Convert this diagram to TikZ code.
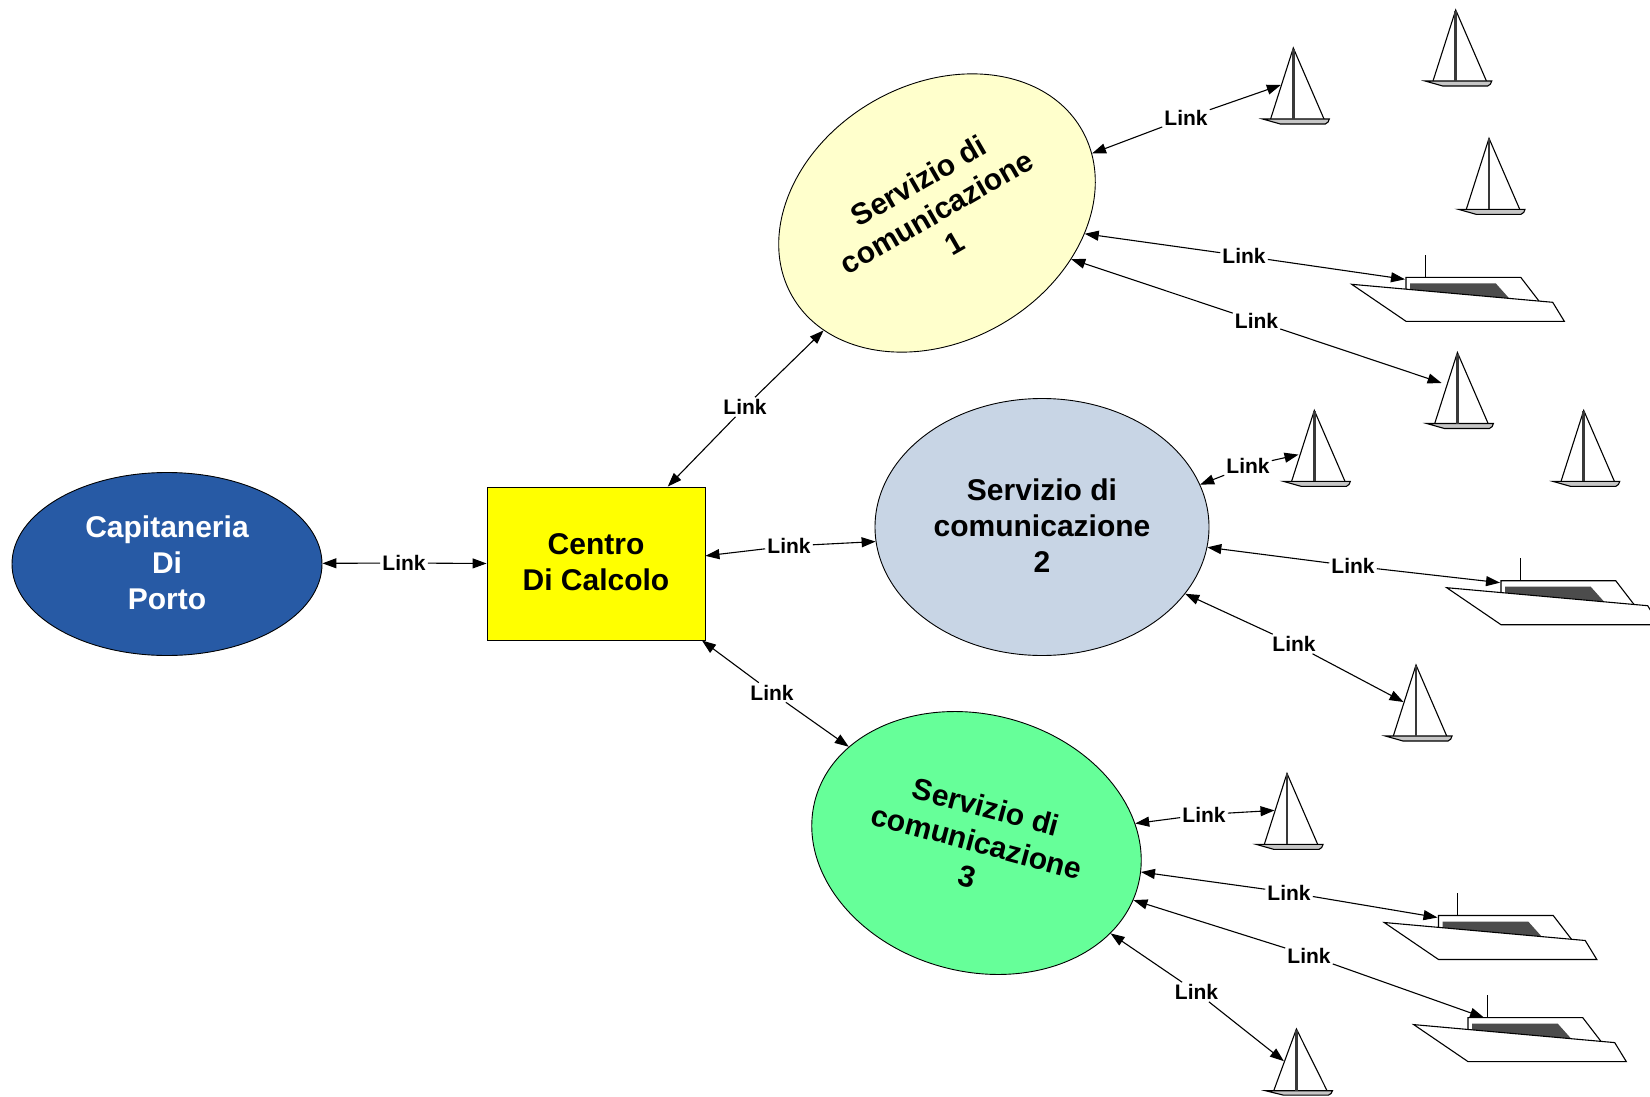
\documentclass[tikz,border=0pt]{standalone}
\usepackage{fontspec}
\setmainfont{Liberation Sans}
\usetikzlibrary{shapes.geometric, arrows.meta}
\definecolor{cblue}{RGB}{39,90,165}
\definecolor{cyel}{RGB}{255,255,0}
\definecolor{cpale}{RGB}{255,255,204}
\definecolor{cgrey}{RGB}{200,213,229}
\definecolor{cgreen}{RGB}{102,255,153}
\tikzset{sv/.style = {ellipse, draw, line width=0.9pt, minimum width=334pt, minimum height=257pt, inner sep=0pt, text depth=3pt, align=center, font=\fontsize{30}{36}\selectfont\bfseries},
           lk/.style = {inner sep=2pt, font=\fontsize{21}{24}\selectfont\bfseries},
           ln/.style = {line width=1.1pt},
           sb/.pic = {
             \draw[line width=1.1pt] (-22.7,71) -- (0,0) -- (30.7,71);
             \draw[line width=1.1pt, fill=gray!45] (-30.7,71) -- (-13,76) -- (32,76) to[bend right=30] (36,71) -- cycle;
             \draw[line width=2.6pt, gray!45!black] (0,1) -- (0,71);
             \coordinate (-port) at (-12.5,37);
             \coordinate (-high) at (-15.8,30.5);
             \coordinate (-low) at (-15.8,44.2);
           },
           mb/.pic = {
             \draw[line width=1.1pt, fill=white] (0,14) -- (0,0) -- (114.7,0) -- (134.7,26);
             \fill[black!70] (4,6) -- (89.7,6) -- (104,22) -- (4,14) -- cycle;
             \draw[line width=1.1pt] (19.3,-22.3) -- (19.3,0);
             \draw[line width=1.1pt, fill=white] (-54.3,7) -- (146.7,25) -- (158.3,44) -- (0,44) -- cycle;
             \coordinate (-port) at (-1,2);
             \coordinate (-mast) at (16,0);
           }}

\begin{document}
\begin{tikzpicture}[x=1pt, y=-1pt, >={Triangle[length=14pt, width=10pt]}]
    \clip[use as bounding box] (0,0) rectangle (1650,1097);
    \node[sv, fill=cblue, text=white, minimum width=310pt, minimum height=183pt] (cp) at (167,564) {Capitaneria\\Di\\Porto};
    \node[draw, line width=0.9pt, fill=cyel, minimum width=218pt, minimum height=153pt, inner sep=0pt, text depth=3pt, align=center, font=\fontsize{30}{36}\selectfont\bfseries] (cc) at (596,563.5) {Centro\\Di Calcolo};
    \node[sv, fill=cpale, rotate=30] (e1) at (937,213) {Servizio di\\comunicazione\\1};
    \node[sv, fill=cgrey] (e2) at (1042,527) {Servizio di\\comunicazione\\2};
    \node[sv, fill=cgreen, rotate=-15] (e3) at (976.5,843) {Servizio di\\comunicazione\\3};
    \pic (s1) at (1293.3,48) {sb}; \pic (s2) at (1455.7,10) {sb}; \pic (s3) at (1489,138.3) {sb};
    \pic (s4) at (1457.4,352.5) {sb}; \pic (s5) at (1314.3,410.4) {sb}; \pic (s6) at (1583.7,410.4) {sb};
    \pic (s7) at (1416,665) {sb}; \pic (s8) at (1287,773.4) {sb};
    \pic[xshift=1296.4pt, yshift=-1029pt, yscale=.87] (s9) at (0,0) {sb};
    \pic (m1) at (1406,277.3) {mb}; \pic (m2) at (1501,580.7) {mb};
    \pic (m3) at (1438.5,915.5) {mb}; \pic (m4) at (1468,1017.6) {mb};
    \node[lk] (l0) at (404,563) {Link};
    \node[lk] (l1) at (745,407) {Link};
    \node[lk] (l2) at (789,546) {Link};
    \node[lk] (l3) at (772,692.5) {Link};
    \node[lk] (l4) at (1186,118) {Link};
    \node[lk] (l5) at (1244,256) {Link};
    \node[lk] (l6) at (1256.5,321) {Link};
    \node[lk] (l7) at (1248,466) {Link};
    \node[lk] (l8) at (1353,566) {Link};
    \node[lk] (l9) at (1294,644) {Link};
    \node[lk] (l10) at (1204,814.5) {Link};
    \node[lk] (l11) at (1289,892.5) {Link};
    \node[lk] (l12) at (1309,955.5) {Link};
    \node[lk] (l13) at (1196.5,992) {Link};
    \draw[ln, ->] (l0) -- (cp); \draw[ln, ->] (l0) -- (cc.west);
    \draw[ln, ->] (l1) -- (cc.47); \draw[ln, ->] (l1) -- (e1.196);
    \draw[ln, ->] (l2) -- (cc.4.7); \draw[ln, ->] (l2) -- (e2.185);
    \draw[ln, ->] (l3) -- (cc.324); \draw[ln, ->] (l3) -- (e3.158.4);
    \draw[ln, ->] (l4) -- (e1.351); \draw[ln, ->] (l4) -- (s1-port);
    \draw[ln, ->] (l5) -- (e1.322); \draw[ln, ->] (l5) -- (m1-port);
    \draw[ln, ->] (l6) -- (e1.311); \draw[ln, ->] (l6) -- (s4-high);
    \draw[ln, ->] (l7) -- (e2.15.8); \draw[ln, ->] (l7) -- (s5-low);
    \draw[ln, ->] (l8) -- (e2.353); \draw[ln, ->] (l8) -- (m2-port);
    \draw[ln, ->] (l9) -- (e2.335); \draw[ln, ->] (l9) -- (s7-port);
    \draw[ln, ->] (l10) -- (e3.22); \draw[ln, ->] (l10) -- (s8-port);
    \draw[ln, ->] (l11) -- (e3.5.7); \draw[ln, ->] (l11) -- (m3-port);
    \draw[ln, ->] (l12) -- (e3.355); \draw[ln, ->] (l12) -- (m4-mast);
    \draw[ln, ->] (l13) -- (e3.341); \draw[ln, ->] (l13) -- (s9-port);
\end{tikzpicture}
\end{document}
